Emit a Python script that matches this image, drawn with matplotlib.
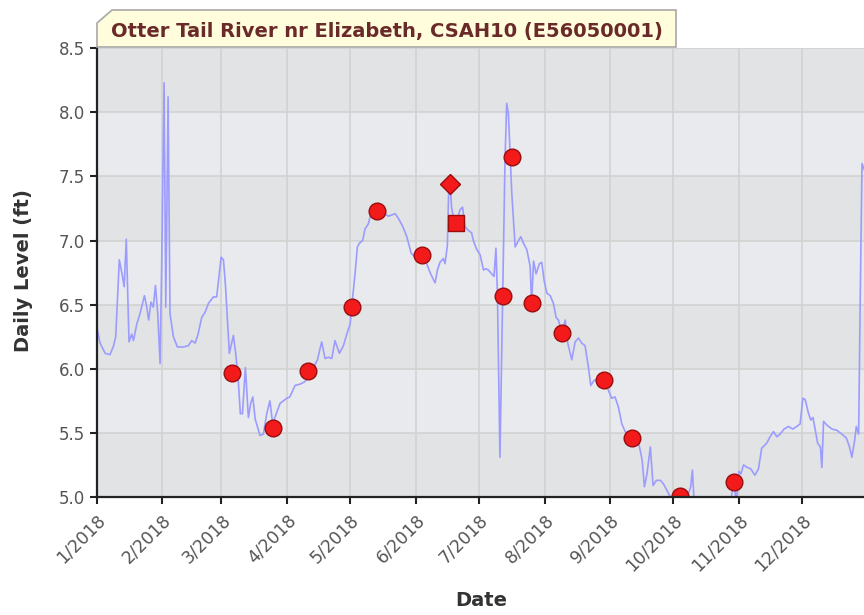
import pandas as pd
import matplotlib
matplotlib.use('Agg')
import matplotlib.pyplot as plt
from matplotlib.patches import Polygon

# daily level trace (day of year from 1 Jan 2018, ft)
level_days = [
    0, 1.6, 4, 6.3, 8, 9, 10.7, 12, 13, 14, 14.7, 15.3, 16.6, 17.4, 19, 20.5,
    22.6, 23.7, 24.6, 25.7, 26.8, 27.8, 28.9, 30, 30.8, 31.9, 32.7, 33.8, 34.7,
    36.3, 38.2, 41, 43.4, 45, 46.6, 48, 49.7, 51.3, 52.9, 55.2, 56.8, 58.9, 60,
    61, 62.8, 64.7, 65.8, 67, 68, 69, 70.4, 71.8, 72.9, 73.9, 75, 77.3, 78.9,
    80.5, 82, 83.3, 85, 86.8, 88.4, 90, 91.4, 93.9, 96.3, 98.6, 102.6, 104.5,
    106.5, 108.1, 109.7, 111.3, 112.8, 114.9, 116.8, 118.4, 120, 120.7, 122.3,
    123.4, 124.4, 125.9, 127, 128.6, 129.8, 132, 135.8, 138.2, 139.7, 141.3,
    142.9, 144.9, 146.8, 148.9, 150.8, 154, 156.2, 158.1, 160.2, 161.3, 162.5,
    164.1, 164.9, 166, 166.6, 167.3, 168, 168.8, 170.1, 172, 173.2, 174.3,
    175.9, 177.5, 178.3, 179.9, 181.5, 183.1, 184.3, 185.4, 187, 188.1, 189,
    189.7, 190.9, 192.2, 193.3, 194.1, 194.9, 195.7, 196.5, 198.1, 199.7,
    200.8, 202, 203.6, 205.2, 205.9, 206.8, 208, 209.6, 210.7, 211.8, 213.1,
    214.7, 216.2, 217.5, 218.6, 220.2, 221.8, 223, 224.9, 226.5, 228.1, 229.6,
    231.2, 232.8, 233.9, 235.5, 237.6, 240.1, 242.3, 243.8, 245.4, 247, 248.6,
    250.2, 253.4, 256.6, 258.2, 259.3, 260.5, 262.1, 263.4, 265, 266.9, 268.4,
    270, 271.6, 273, 275, 278, 281.2, 282, 282.8, 285, 298, 299.8, 301.5,
    302.8, 304, 305, 306.2, 308, 309.6, 311.6, 313.3, 314.8, 317.2, 318.8,
    320.4, 322, 323.5, 325.4, 327.5, 329.5, 331.4, 333, 334.3, 335.4, 337,
    338.1, 339.1, 340.2, 341.3, 342.6, 343.3, 344.1, 345.7, 348.1, 350.4,
    352.8, 354.9, 356.4, 357.5, 358.8, 359.6, 360.7, 361.5, 362.3, 363.4,
]
level_vals = [
    6.33, 6.20, 6.12, 6.11, 6.18, 6.25, 6.85, 6.74, 6.64, 7.01, 6.59, 6.21,
    6.27, 6.22, 6.35, 6.43, 6.57, 6.48, 6.38, 6.52, 6.48, 6.65, 6.43, 6.04,
    6.85, 8.23, 6.48, 8.12, 6.43, 6.25, 6.17, 6.17, 6.18, 6.22, 6.20, 6.27,
    6.40, 6.44, 6.51, 6.56, 6.56, 6.87, 6.85, 6.64, 6.12, 6.26, 6.12, 5.91,
    5.65, 5.65, 6.01, 5.62, 5.73, 5.78, 5.61, 5.48, 5.49, 5.65, 5.75, 5.57,
    5.65, 5.73, 5.75, 5.77, 5.78, 5.87, 5.88, 5.90, 6.01, 6.07, 6.21, 6.08,
    6.09, 6.08, 6.22, 6.12, 6.18, 6.27, 6.35, 6.48, 6.74, 6.95, 6.98, 7.00,
    7.09, 7.13, 7.21, 7.23, 7.21, 7.19, 7.20, 7.21, 7.17, 7.11, 7.03, 6.90,
    6.87, 6.89, 6.82, 6.74, 6.67, 6.77, 6.83, 6.86, 6.82, 6.96, 7.37, 7.43,
    7.26, 7.18, 7.13, 7.24, 7.26, 7.11, 7.08, 7.06, 7.00, 6.93, 6.89, 6.77,
    6.78, 6.77, 6.74, 6.72, 6.94, 6.59, 5.31, 6.59, 7.63, 8.07, 7.99, 7.68,
    7.37, 6.95, 7.00, 7.03, 6.98, 6.93, 6.80, 6.51, 6.84, 6.74, 6.82, 6.83,
    6.69, 6.59, 6.57, 6.51, 6.40, 6.38, 6.28, 6.38, 6.20, 6.07, 6.21, 6.24,
    6.20, 6.18, 6.01, 5.87, 5.91, 5.92, 5.91, 5.83, 5.77, 5.78, 5.70, 5.57,
    5.51, 5.46, 5.42, 5.29, 5.08, 5.18, 5.39, 5.09, 5.13, 5.13, 5.10, 5.05,
    5.00, 4.97, 4.90, 4.92, 5.08, 5.21, 4.97, 4.85, 4.85, 4.90, 5.14, 4.95,
    5.20, 5.18, 5.25, 5.23, 5.22, 5.17, 5.22, 5.38, 5.42, 5.47, 5.51, 5.47,
    5.49, 5.53, 5.55, 5.53, 5.55, 5.57, 5.77, 5.76, 5.65, 5.60, 5.62, 5.52,
    5.42, 5.39, 5.23, 5.59, 5.56, 5.53, 5.52, 5.49, 5.46, 5.39, 5.31, 5.44,
    5.55, 5.49, 6.59, 7.60, 7.55,
]

# field measurements
circle_days = [63.9, 83.6, 99.9, 120.7, 132.9, 154, 192.5, 196.5, 205.9,
               220.2, 240.1, 253.4, 276.2, 301.7]
circle_vals = [5.97, 5.54, 5.98, 6.48, 7.23, 6.89, 6.57, 7.65, 6.51,
               6.28, 5.91, 5.46, 5.01, 5.12]
diamond_days = [167.3]
diamond_vals = [7.44]
square_days = [170.1]
square_vals = [7.14]

title = 'Otter Tail River nr Elizabeth, CSAH10 (E56050001)'
yticks = [5.0, 5.5, 6.0, 6.5, 7.0, 7.5, 8.0, 8.5]
month_ticks = pd.date_range('2018-01-01', '2018-12-01', freq='MS')

start = pd.Timestamp('2018-01-01')


def to_dates(days):
    return start + pd.to_timedelta(days, unit='D')


W, H = 864, 615
fig = plt.figure(figsize=(W / 100, H / 100), dpi=100)
ax = fig.add_axes([96.7 / W, 1 - 497 / H, 771 / W, (497 - 48.2) / H])

# banded background
for i in range(len(yticks) - 1):
    c = '#e2e3e5' if i % 2 == 0 else '#e8eaed'
    ax.axhspan(yticks[i], yticks[i + 1], color=c, lw=0, zorder=0)

ax.grid(True, color='#d2d2d2', lw=1.2, zorder=1)
ax.set_axisbelow(True)

ax.plot(to_dates(level_days), level_vals, color='#9c9cff', lw=1.2, zorder=3)

mk = dict(linestyle='none', markerfacecolor='#f21a1a',
          markeredgecolor='#9a0d0d', markeredgewidth=1.0, zorder=4)
ax.plot(to_dates(circle_days), circle_vals, marker='o', markersize=12, **mk)
ax.plot(to_dates(diamond_days), diamond_vals, marker='D', markersize=10, **mk)
ax.plot(to_dates(square_days), square_vals, marker='s', markersize=11, **mk)

ax.set_xlim(start, pd.Timestamp('2019-01-01'))
ax.set_ylim(5.0, 8.5)
ax.set_yticks(yticks)
ax.set_yticklabels(['%.1f' % v for v in yticks], fontsize=12)
ax.set_xticks(month_ticks)
ax.set_xticklabels(['%d/%d' % (d.month, d.year) for d in month_ticks],
                   rotation=45, ha='right', rotation_mode='anchor',
                   fontsize=12.5)

ax.tick_params(axis='both', labelcolor='#555555',
               length=5, width=1.5, color='#222222', direction='out')
ax.tick_params(axis='x', pad=5)

for s in ['top', 'right']:
    ax.spines[s].set_visible(False)
for s in ['left', 'bottom']:
    ax.spines[s].set_color('#222222')
    ax.spines[s].set_linewidth(1.6)
    ax.spines[s].set_zorder(5)

fig.text(24 / W, 1 - 271 / H, 'Daily Level (ft)', rotation=90,
         ha='center', va='center', fontsize=14, fontweight='bold',
         color='#333333')
fig.text(481 / W, 1 - 600 / H, 'Date', ha='center', va='center',
         fontsize=14, fontweight='bold', color='#333333')

# title tab
pts = [(97, 47), (97, 23), (112, 10), (676, 10), (676, 47)]
tab = Polygon([(x / W, 1 - y / H) for x, y in pts], closed=True,
              transform=fig.transFigure, facecolor='#fffddc',
              edgecolor='#a8a8a8', lw=1.2, zorder=10)
fig.patches.append(tab)
fig.text(387 / W, 1 - 31 / H, title, ha='center', va='center',
         fontsize=14, fontweight='bold', color='#6b2a2a', zorder=11)

fig.savefig('out.png', dpi=100)
